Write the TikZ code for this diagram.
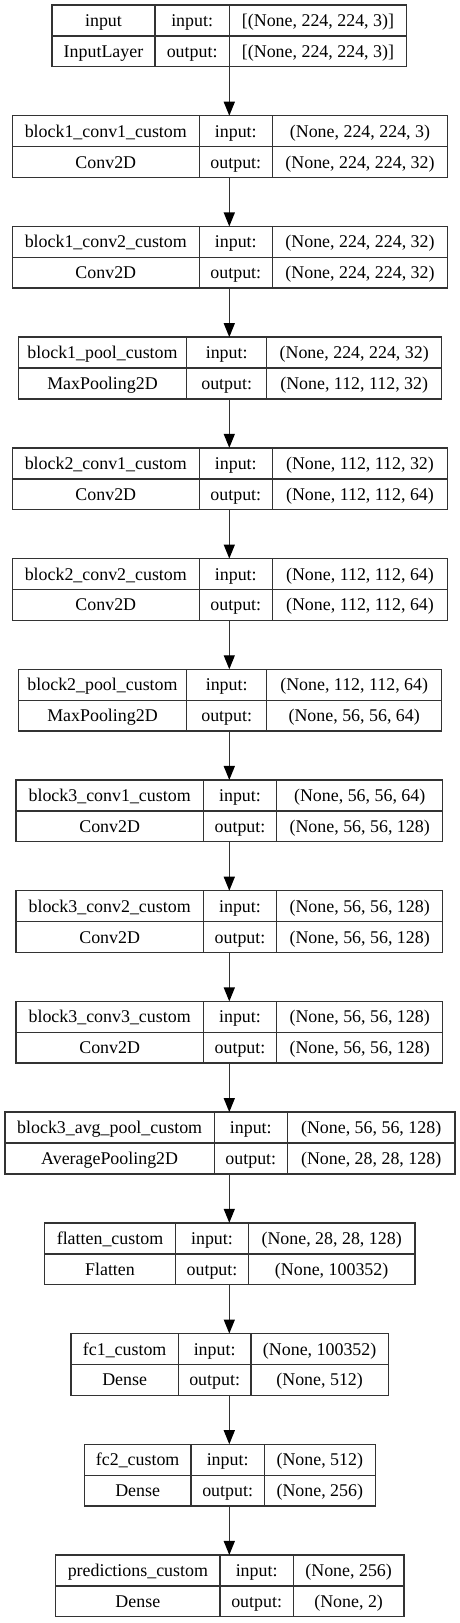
\documentclass[tikz,border=0pt]{standalone}
\usepackage{fontspec}
\setmainfont{Liberation Serif}
\usetikzlibrary{arrows.meta}
\definecolor{lc}{HTML}{333333}
\tikzset{
  boxframe/.style={draw=lc, line width=1.4pt, inner sep=0pt, outer sep=0pt, anchor=north west},
  sepline/.style={draw=lc, line width=1.4pt},
  lbl/.style={inner sep=0pt, text height=12pt, text depth=0pt, anchor=center, font=\fontsize{17.9}{20}\selectfont},
  conn/.style={draw=lc, line width=1.4pt, -{Triangle[length=14pt,width=11pt,color=black]}},
}
\newcommand\kerasLayer[9]{%
  \pgfmathsetmacro\ktop{5+110.71*#1}%
  \pgfmathsetmacro\kmid{\ktop+31}%
  \pgfmathsetmacro\kbot{\ktop+61.7}%
  \pgfmathsetmacro\kwid{#5-#2}%
  \pgfmathsetmacro\kra{\ktop+15.5}%
  \pgfmathsetmacro\krb{\kmid+15.35}%
  \pgfmathsetmacro\kca{(#2+#3)/2}%
  \pgfmathsetmacro\kcb{(#3+#4)/2}%
  \pgfmathsetmacro\kcc{(#4+#5)/2}%
  \node[boxframe, minimum width=\kwid pt, minimum height=61.7pt] (L#1) at (#2,\ktop) {};
  \draw[sepline] (#3,\ktop) -- (#3,\kbot) (#4,\ktop) -- (#4,\kbot) (#2,\kmid) -- (#5,\kmid);
  \node[lbl] (L#1name) at (\kca,\kra) {#6};
  \node[lbl] (L#1type) at (\kca,\krb) {#7};
  \node[lbl] (L#1inl) at (\kcb,\kra) {input:};
  \node[lbl] (L#1outl) at (\kcb,\krb) {output:};
  \node[lbl] (L#1inv) at (\kcc,\kra) {#8};
  \node[lbl] (L#1outv) at (\kcc,\krb) {#9};
}
\begin{document}
\begin{tikzpicture}[x=1pt,y=-1pt]
\useasboundingbox (0,0) rectangle (460,1623);
\kerasLayer{0}{52}{155}{229.3}{406.7}{input}{InputLayer}{[(None, 224, 224, 3)]}{[(None, 224, 224, 3)]}
\kerasLayer{1}{12.3}{199.3}{272.3}{447.7}{block1\_conv1\_custom}{Conv2D}{(None, 224, 224, 3)}{(None, 224, 224, 32)}
\kerasLayer{2}{12.3}{199.3}{272.3}{447.7}{block1\_conv2\_custom}{Conv2D}{(None, 224, 224, 32)}{(None, 224, 224, 32)}
\kerasLayer{3}{18.3}{186.7}{266.7}{441.7}{block1\_pool\_custom}{MaxPooling2D}{(None, 224, 224, 32)}{(None, 112, 112, 32)}
\kerasLayer{4}{12.3}{199.3}{272.3}{447.7}{block2\_conv1\_custom}{Conv2D}{(None, 112, 112, 32)}{(None, 112, 112, 64)}
\kerasLayer{5}{12.3}{199.3}{272.3}{447.7}{block2\_conv2\_custom}{Conv2D}{(None, 112, 112, 64)}{(None, 112, 112, 64)}
\kerasLayer{6}{18.3}{186.7}{266.7}{441.7}{block2\_pool\_custom}{MaxPooling2D}{(None, 112, 112, 64)}{(None, 56, 56, 64)}
\kerasLayer{7}{16}{203.3}{276.7}{442.7}{block3\_conv1\_custom}{Conv2D}{(None, 56, 56, 64)}{(None, 56, 56, 128)}
\kerasLayer{8}{16}{203.3}{276.7}{442.7}{block3\_conv2\_custom}{Conv2D}{(None, 56, 56, 128)}{(None, 56, 56, 128)}
\kerasLayer{9}{16}{203.3}{276.7}{442.7}{block3\_conv3\_custom}{Conv2D}{(None, 56, 56, 128)}{(None, 56, 56, 128)}
\kerasLayer{10}{5}{214.3}{287.3}{455}{block3\_avg\_pool\_custom}{AveragePooling2D}{(None, 56, 56, 128)}{(None, 28, 28, 128)}
\kerasLayer{11}{44.3}{175.7}{248.3}{415}{flatten\_custom}{Flatten}{(None, 28, 28, 128)}{(None, 100352)}
\kerasLayer{12}{71}{178.3}{251}{388.3}{fc1\_custom}{Dense}{(None, 100352)}{(None, 512)}
\kerasLayer{13}{84.3}{191}{264.3}{375.3}{fc2\_custom}{Dense}{(None, 512)}{(None, 256)}
\kerasLayer{14}{55.7}{220}{293.3}{404}{predictions\_custom}{Dense}{(None, 256)}{(None, 2)}
\coordinate (ax) at (229.3,0);
\foreach \i in {0,...,13}{
  \pgfmathtruncatemacro\j{\i+1}
  \draw[conn] (L\i.south -| ax) -- (L\j.north -| ax);
}
\end{tikzpicture}
\end{document}
